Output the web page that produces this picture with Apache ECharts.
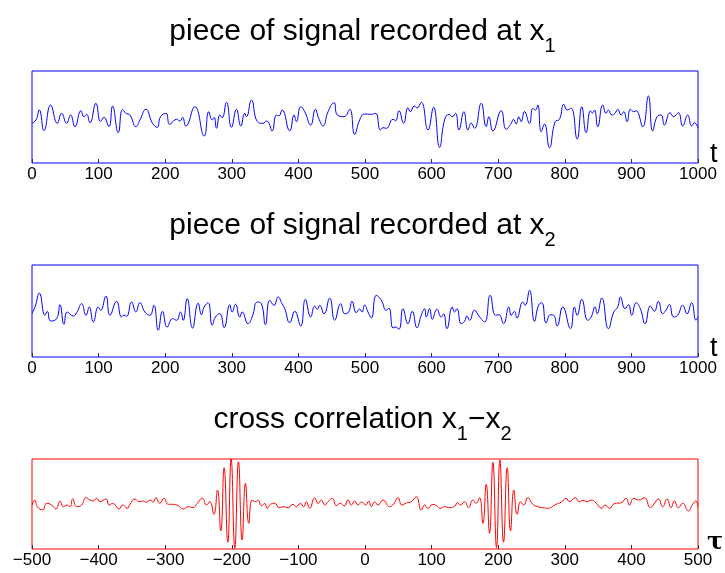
<!DOCTYPE html>
<html><head><meta charset="utf-8">
<script src="https://cdn.jsdelivr.net/npm/echarts@6/dist/echarts.min.js"></script>
<style>html,body{margin:0;padding:0;background:#fff}#c{width:725px;height:573px}</style>
</head><body><div id="c"></div>
<script>
// ---- data ----
const t1 = [0,6,11,18,28,38,44.5,52,58,64.5,73.5,78,82,87,96,103,108,115.5,121,129.5,136,141,147,156,162,171,181,188,193,201,207,217,222,226,231,244.5,258.5,265.5,270.5,273.5,277,282,285.5,292,299.5,307,313.5,319.5,322,329.5,338.5,347,352,355.5,360.5,367,370.5,375.5,387,393.5,397,403.5,409.5,418.5,425.5,430.5,437,444.5,453.5,458.5,468.5,477,484.5,492,499.5,509.5,516,523,527,532,542,546,551,558,564.5,568,574,578,584.5,594.5,603,612,619.5,626,631,636,641,648.5,654.5,659.5,664.5,674.5,682,686,692,704.5,712,719.5,723,727,731,734.5,739.5,747,752,756,759.5,764.5,769.5,777,785.5,792,798.5,803.5,809.5,818.5,825.5,832,838.5,841.5,844.5,849.5,857,862,865.5,870.5,875,879.5,884.5,888.5,893.5,898.5,903.5,907,917,925.5,932,938.5,944.5,949.5,958,963.5,970.5,977,984.5,990.5,994.5,1000];
const v1 = [-0.63,-0.3,0.7,-1.37,1.2,-0.63,0.37,-0.63,0.2,-0.97,0.63,0.03,0.27,-0.57,1.37,-0.47,-0.03,-0.97,1.1,-1.57,0.77,0.37,0.2,-0.97,-0.3,0.77,-0.63,-1.03,0.03,0.37,-0.73,-0.23,-0.4,-0.03,-0.9,1.03,-1.9,0.53,-0.3,-0.03,-1.13,0.2,-0.07,1.47,-1.03,0.77,-0.9,0.37,0.03,1.7,-0.47,-0.63,-0.4,-0.57,-1.4,0.2,0.1,0.7,-1.4,0.2,-0.47,1.03,0.53,-0.8,0.77,-0.13,-0.9,0.53,1.43,0.2,0.03,0.77,-1.73,-0.3,0.3,0.27,0.37,-1.3,-1.07,-1.13,-0.23,-0.37,0.63,-0.63,0.93,0.53,1.1,0.9,1.47,-1.3,0.97,-3.03,-0.3,0.27,0.03,0.37,-1.3,0.53,-1.3,-0.63,-1.13,1.37,-0.97,0.03,-1.4,0.63,-1.23,-0.63,-0.23,-0.7,0.03,-0.47,0.55,-0.65,0.87,0.7,1.2,-1.47,-0.7,-3.07,-0.47,-0.23,1.27,0.7,0.87,-2.2,1.03,-1.57,0.63,0.4,0.7,-0.97,1.2,0.37,0.7,0.2,0.35,0.77,0.2,0.53,-0.47,0.77,0.53,0.63,-0.97,2.1,-1.4,0.03,0.2,-0.8,0.43,0.03,0.43,-0.9,0.2,-0.9,-0.57,-1.07];

const t2 = [0,5,11,19.5,23,28,37,42,48,53,62,67,74.5,81,86,92,99.5,103,111,117,127,134.5,138,142,149.5,156,162,169.5,177,183,189.5,196,203,211,217,223,227,233,241,249.5,254.5,258.5,264.5,270.5,275.5,282,288.5,297,300.5,305.5,312,315.5,324.5,330.5,338.5,344.5,350.5,357,363.5,369.5,375.5,379.5,387,394.5,403.5,410.5,418.5,424.5,428.5,432,438.5,447,454.5,463.5,469.5,475.5,480.5,487,492,495.5,499.5,504.5,509.5,517,524.5,532,536,542,546,551,557,564.5,571,578,584.5,589.5,592,597,601,608,614.5,618,623,631,634.5,638,644.5,649.5,653,657,664.5,671,679.5,688,696,701,708,716,719.5,724.5,728,737,740.5,747,754.5,760.5,765.5,772,778.5,783.5,788.5,797,808.5,814.5,818.5,825.5,834.5,839.5,845.5,848.5,855.5,865.5,873.5,879.5,883.5,890.5,895.5,900.5,907,913.5,920.5,928.5,934.5,940.5,947,952,957,963.5,969.5,977,983.5,990.5,997,1000];
const v2 = [-0.27,0.5,1.8,-0.43,-0.03,-1.0,-0.77,0.63,-1.33,-0.1,-0.5,-0.17,0.73,-0.43,0.4,-1.1,0.4,0.07,1.5,-0.43,0.97,-0.6,-0.4,-0.53,0.9,-0.1,0.83,-0.1,-0.43,0.57,-1.93,-0.03,-1.6,-0.77,-0.93,-0.1,-0.93,1.23,-1.7,0.78,-0.37,0.4,0.83,-1.43,-0.6,-0.27,-1.67,0.63,-0.1,0.67,-0.6,-0.1,-1.27,-0.6,0.9,0.73,-1.37,1.07,0.57,1.4,0.73,0.23,-1.17,-0.03,-1.5,1.17,-0.6,0.5,0.17,0.57,-0.27,1.3,-0.93,0.73,-0.27,-0.1,0.97,-0.17,0.2,-0.1,0.6,-0.1,-0.7,1.57,1.07,0.07,0.3,-1.7,-1.6,-1.83,0.23,-1.27,-0.03,-1.67,-0.43,0.23,-0.6,0.23,-0.83,0.17,-0.6,-0.27,-1.77,0.4,-0.1,0.23,-1.27,-1.03,-0.5,-0.93,0.07,-0.5,-1.1,1.57,-0.43,-0.37,-1.27,0.4,-0.43,-0.03,-0.7,0.9,0.57,2.07,-1.03,0.57,0.83,-1.2,-0.37,-0.43,-1.5,0.4,-1.77,0.4,-0.43,1.17,-0.93,-0.6,0.4,-0.27,1.3,-1.77,-0.1,0.4,1.4,0.23,0.63,-0.43,0.83,0.23,-1.27,0.5,-0.03,0.97,-0.27,0.1,0.63,-0.6,-0.43,0.57,-0.27,0.83,-0.93,-0.6];

const tau = [-500,-495.5,-492,-484,-478,-470.5,-464,-458,-453,-447,-443,-439,-433,-425.5,-419,-413,-408,-403,-398,-389,-384,-379,-369,-364,-357,-353,-345.5,-339,-333,-328,-323,-318,-314,-308,-302,-295.5,-288,-280.5,-273,-265.5,-258,-253,-244,-238,-233,-227,-221.5,-216.5,-211.5,-206,-201,-195.5,-190,-184.5,-179.5,-174.5,-169.5,-164,-160.5,-155.5,-150.5,-147,-142,-135.5,-129,-123,-115.5,-108,-103,-97,-92,-88,-83,-75.5,-70.5,-65.5,-60.5,-55.5,-49,-43,-37,-31,-25.5,-20.5,-15.5,-10.5,-5,1,5.5,9.5,14.5,19.5,27,37,43,49.5,55.5,62,69.5,77,84.5,89.5,94.5,102,107,113.5,119.5,127,135,138.5,143.5,149.5,155.5,162,167,172,177,182,187,192,197.5,202.5,208,213.5,218.5,223.5,228.5,233.5,238.5,244.5,252,259.5,267,274.5,280,287,294.5,302,307,315.5,322,327,333.5,339.5,347,355.5,360.5,367,375.5,384,392,397,403.5,411,419.5,428.5,434,440.5,447,453.5,459.5,464.5,470.5,477,485.5,492,497,500];
const cc = [-0.1,0.4,-0.27,-0.6,0.07,-0.1,-0.5,0.3,-0.27,-0.1,-0.27,0.5,-0.27,-0.1,0.63,0.4,0.3,0.57,0.23,0.5,-0.1,0.07,-0.5,-0.1,-0.43,-0.03,0.5,0.23,0.3,0.17,0.4,0.2,0.63,0.07,0.57,-0.03,-0.03,-0.17,-0.5,-0.27,-0.37,-0.03,0.57,-0.1,0.23,-1.03,1.4,-2.7,3.63,-3.83,4.5,-4.43,4.23,-3.6,2.07,-1.93,0.4,0.23,0.4,-0.17,0.07,-0.43,-0.03,0.07,-0.37,-0.27,-0.37,-0.03,-0.27,0.07,-0.27,0.23,-0.43,0.63,0.07,0.4,-0.1,0.23,0.57,-0.17,0.07,-0.2,0.4,-0.1,0.3,-0.1,0.2,-0.1,0.3,-0.27,0.23,-0.1,0.4,-0.27,0.0,0.63,-0.1,0.1,0.23,0.73,-0.6,-0.1,-0.43,-0.03,-0.15,-0.43,-0.27,-0.37,-0.2,0.13,-0.1,0.23,-0.37,0.4,0.07,0.63,-1.93,1.97,-2.93,4.17,-4.37,4.4,-3.83,3.63,-2.7,1.4,-1.03,0.23,-0.1,0.63,-0.03,-0.27,-0.37,-0.43,-0.3,-0.03,0.17,0.57,0.23,0.63,0.23,0.35,0.23,0.4,0.1,-0.43,-0.1,-0.43,0.07,0.1,0.57,-0.1,0.57,0.4,0.63,-0.37,0.0,0.5,-0.27,0.5,-0.37,0.3,-0.37,0.07,-0.7,-0.03,0.3,-0.27];

const titles = [['piece of signal recorded at x','1'],['piece of signal recorded at x','2'],['cross correlation x','1','\u2212x','2']];
const axisNames = ['t','t','\u03c4'];
// ------------------------------------

const pairs = (xs, ys) => xs.map((x, i) => [x, ys[i]]);
const FONT = 'Liberation Sans';
const blue = '#0000ff', red = '#ff0000';
const tops = [71, 265, 459];
const heights = [92, 92, 90];
const yr = [4.6, 4.6, 4.5];
const colors = [blue, blue, red];

const chart = echarts.init(document.getElementById('c'), null, {renderer: 'canvas'});
const titleTops = [17, 211, 405];
const titleComp = titles.map((parts, i) => ({
  text: parts.map((p, k) => (k % 2 === 0 ? '{m|' : '{s|') + p + '}').join(''),
  left: 'center', top: titleTops[i], padding: 0,
  textStyle: {
    rich: {
      m: {fontFamily: FONT, fontSize: 30, fontWeight: 'normal', color: '#000', lineHeight: 30, verticalAlign: 'top'},
      s: {fontFamily: FONT, fontSize: 20, fontWeight: 'normal', color: '#000', lineHeight: 39, verticalAlign: 'bottom'}
    }
  }
}));

const grids = tops.map((tp, i) => ({
  left: 32, width: 666, top: tp, height: heights[i], containLabel: false, outerBoundsMode: 'none',
  show: true, borderColor: colors[i], borderWidth: 1, backgroundColor: 'transparent'
}));
const xAxes = [0,1,2].map(i => ({
  gridIndex: i, type: 'value', position: 'bottom',
  min: i < 2 ? 0 : -500, max: i < 2 ? 1000 : 500, interval: 100,
  axisLine: {show: false, onZero: false},
  axisTick: {show: true, inside: true, length: 4, lineStyle: {color: '#333'}},
  splitLine: {show: false},
  axisLabel: {color: '#000', fontFamily: FONT, fontSize: 17, margin: 3,
    formatter: v => String(v).replace('-', '\u2212')},
  name: axisNames[i], nameLocation: 'end', nameGap: i < 2 ? 12 : 9, nameMoveOverlap: false,
  nameTextStyle: i < 2
    ? {fontFamily: FONT, fontSize: 27, color: '#000', verticalAlign: 'bottom', padding: [0,0,-5,0]}
    : {fontFamily: 'DejaVu Serif', fontWeight: 'bold', fontSize: 24, color: '#000', verticalAlign: 'bottom', padding: [0,0,-6,0]}
}));
const yAxes = [0,1,2].map(i => ({gridIndex: i, type: 'value', min: -yr[i], max: yr[i], show: false}));
const series = [[t1, v1], [t2, v2], [tau, cc]].map((d, i) => ({
  type: 'line', xAxisIndex: i, yAxisIndex: i, data: pairs(d[0], d[1]),
  showSymbol: false, smooth: 0.5, lineStyle: {width: 1, color: colors[i]}, itemStyle: {color: colors[i]}
}));

chart.setOption({animation: false, title: titleComp, grid: grids, xAxis: xAxes, yAxis: yAxes, series: series});
</script></body></html>
